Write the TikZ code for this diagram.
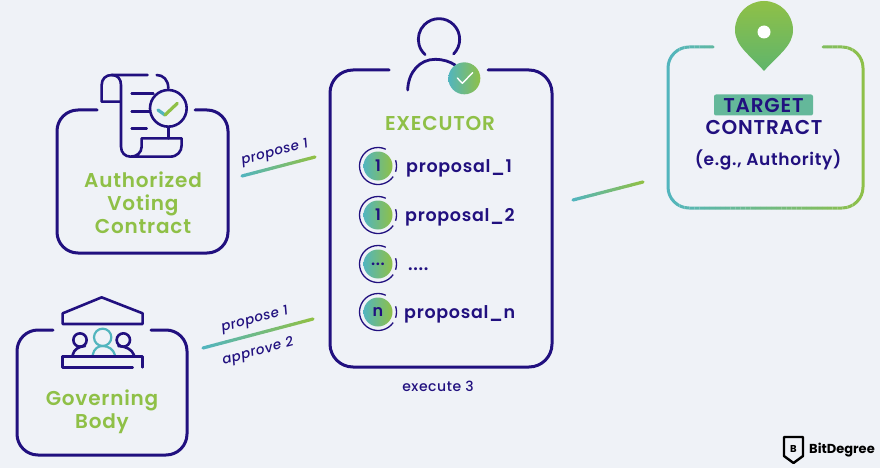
\documentclass[tikz,border=0pt]{standalone}
\usepackage{fontspec}
\setmainfont{Poppins}[LetterSpace=4,BoldFont={Poppins SemiBold},ItalicFont={Poppins Medium Italic},UprightFont={Poppins Medium}]
\newfontfamily\logofont{Poppins}
\usetikzlibrary{calc}
\definecolor{pagebg}{HTML}{EFF2F7}
\definecolor{navy}{HTML}{21107F}
\definecolor{lgreen}{HTML}{8FC047}
\definecolor{lteal}{HTML}{52B5BE}
\definecolor{pingreen}{HTML}{5FB56C}
\newcommand{\gradline}[2]{
\foreach \i in {0,...,23} {
\pgfmathtruncatemacro{\p}{100*\i/23}
\pgfmathsetmacro{\j}{(\i+1)/24}
\pgfmathsetmacro{\k}{\i/24}
\draw[link, color=lgreen!\p!lteal] ($(#1)!\k!(#2)$) -- ($(#1)!\j!(#2)$);
}}
\newcommand{\threedots}{...}
\newcommand{\fourdots}{....}
\begin{document}
\begin{tikzpicture}[x=1pt, y=-1pt,
box/.style = {navy, line width=3pt, line cap=round, rounded corners=21pt},
icon/.style = {navy, line width=2.6pt, line cap=round, line join=round},
link/.style = {line width=3.2pt, line cap=round},
title/.style = {lgreen, anchor=base, inner sep=0pt, font=\fontsize{20}{24}\selectfont\bfseries},
head/.style = {navy, anchor=base, inner sep=0pt, font=\fontsize{20}{24}\selectfont\bfseries},
item/.style = {navy, anchor=base west, inner sep=0pt, font=\fontsize{17.5}{20}\selectfont\bfseries},
small/.style = {navy, font=\fontsize{13.5}{15}\selectfont\itshape, rotate=15},
badge/.style = {circle, left color=lteal, right color=lgreen, minimum size=29pt, inner sep=0pt, text=navy, font=\fontsize{16}{18}\selectfont\bfseries}]
\fill[pagebg] (0,0) rectangle (880,468);

% authorized voting contract
\draw[box] (97,110) -- (57,110) -- (57,253) -- (228,253) -- (228,110) -- (195,110);
\begin{scope}[shift={(40,60)},scale=1/3]
\draw[icon] (323,45) -- (215,45) .. controls (197,45) and (185,57) .. (185,75) -- (185,125) -- (240,125);
\draw[icon] (215,45) .. controls (233,45) and (243,57) .. (243,75) -- (243,260) .. controls (243,278) and (255,290) .. (272,290) -- (390,290) .. controls (412,290) and (425,275) .. (425,255) -- (425,235) -- (305,235) -- (305,260) .. controls (305,278) and (290,290) .. (272,290);
\draw[icon] (350,45) .. controls (370,45) and (385,60) .. (385,85);
\draw[icon] (275,100) -- (340,100);
\draw[icon] (275,155) -- (330,155);
\draw[icon] (275,205) -- (320,205);
\draw[icon] (385,200) -- (385,235);
\draw[icon, fill=pagebg] (385,145) circle (55pt);
\draw[line width=3.2pt, line cap=round, line join=round, lteal] (354,150) -- (375,165);
\draw[line width=3.2pt, line cap=round, lgreen] (375,165) -- (412,130);
\end{scope}
\node[title] (auth1) at (143,187) {Authorized};
\node[title] (auth2) at (143,210.5) {Voting};
\node[title] (auth3) at (143,233) {Contract};

% governing body
\draw[box] (53,330) -- (17,330) -- (17,455) -- (187,455) -- (187,330) -- (151,330);
\begin{scope}[shift={(0,280)},scale=1/3]
\draw[icon] (188,100) -- (305,52) -- (428,100) -- (428,132) -- (188,132) -- cycle;
\draw[icon] (240,180) circle (20pt);
\draw[icon] (370,180) circle (20pt);
\draw[icon] (218,225) .. controls (222,208) and (235,200) .. (255,198);
\draw[icon] (355,198) .. controls (380,200) and (395,208) .. (402,225);
\draw[lteal, line width=2.2pt] (308,172) circle (26pt);
\draw[lteal, line width=2.2pt, line cap=round] (278,225) .. controls (282,205) and (295,198) .. (308,198) .. controls (325,198) and (340,208) .. (345,225);
\draw[icon] (398,262) -- (188,262) -- (188,230) -- (428,230) -- (428,262);
\end{scope}
\node[title] (gov1) at (102,405) {Governing};
\node[title] (gov2) at (102,428) {Body};

% executor
\draw[box, rounded corners=23pt] (389,70) -- (330,70) -- (330,367) -- (552,367) -- (552,70) -- (488,70);
\begin{scope}[shift={(320,0)},scale=1/3]
\draw[icon, line width=2.8pt] ([shift={(-45:62pt)}]357,118) arc[start angle=-45, end angle=228, radius=62pt];
\draw[icon, line width=2.8pt] (263,270) .. controls (265,215) and (300,178) .. (345,178) .. controls (370,178) and (390,185) .. (405,195);
\shade[left color=lteal, right color=lgreen] (433,235) circle (48pt);
\draw[white, line width=1.4pt, line cap=round, line join=round] (412,234) -- (427,250) -- (458,218);
\end{scope}
\node[title] (exec) at (440,130.5) {EXECUTOR};
\foreach \y/\n/\lab/\txt/\tx in {166/a/1/proposal\_1/406, 215/b/1/proposal\_2/405, 264/c/\threedots/\fourdots/408, 312/d/n/proposal\_n/404} {
\node[badge] (badge\n) at (378,\y) {\lab};
\draw[navy, line width=1.3pt] ([shift={(65:18.5pt)}]badge\n.center) arc[start angle=65, end angle=325, radius=18.5pt];
\draw[navy, line width=1.3pt] ([shift={(18:18.5pt)}]badge\n.center) arc[start angle=18, end angle=-18, radius=18.5pt];
\node[item] (item\n) at ($(\tx,\y)+(0,6)$) {\txt};
}
\node[navy, anchor=base, inner sep=0pt, font=\fontsize{14}{15}\selectfont] (exe) at (438,391.5) {execute 3};

% target contract
\foreach \i in {0,...,39} {
\pgfmathtruncatemacro{\p}{100*\i/39}
\pgfmathsetmacro{\xa}{664+5.1*\i}
\pgfmathsetmacro{\xb}{664+5.1*(\i+1)}
\begin{scope}
\clip (\xa,30) rectangle (\xb,220);
\draw[box, color=lgreen!\p!lteal] (713,47) -- (668,47) -- (668,208) -- (863,208) -- (863,47) -- (823,47);
\end{scope}
}
\shade[top color=lgreen, bottom color=pingreen] (764,71) .. controls (750,55) and (735,46) .. (735,30) .. controls (735,14) and (748,1) .. (764,1) .. controls (780,1) and (793,14) .. (793,30) .. controls (793,46) and (778,55) .. (764,71) -- cycle;
\fill[white] (764,32) circle (6.5pt);
\node[fill=lteal!70!lgreen, rounded corners=2pt, minimum width=99pt, minimum height=21pt, inner sep=0pt] (targetbg) at (763.5,105) {};
\node[head] (target) at (763.5,112.5) {TARGET};
\node[head] (contract) at (764,135) {CONTRACT};
\node[head, font=\fontsize{17}{20}\selectfont\bfseries] (authority) at (768,165) {(e.g., Authority)};

% links
\coordinate (p1a) at (242,176);
\coordinate (p1b) at (315,157);
\coordinate (p2a) at (203,348);
\coordinate (p2b) at (313,319);
\coordinate (p3a) at (573,200);
\coordinate (p3b) at (643,182);
\gradline{p1a}{p1b}
\gradline{p2a}{p2b}
\gradline{p3a}{p3b}
\node[small] (prop1) at (275,153) {propose 1};
\node[small] (prop2) at (255,320) {propose 1};
\node[small] (appr) at (258,352) {approve 2};

% logo
\draw[black, line width=2.4pt, line join=round] (784,437) -- (803,437) -- (803,456) -- (793.5,463) -- (784,456) -- cycle;
\node[black, font=\logofont\fontsize{10}{12}\selectfont\bfseries] (logob) at (793.5,449) {B};
\node[black, anchor=west, inner sep=0pt, font=\logofont\fontsize{13}{15}\selectfont\bfseries] (logo) at (809,450) {BitDegree};
\end{tikzpicture}
\end{document}
